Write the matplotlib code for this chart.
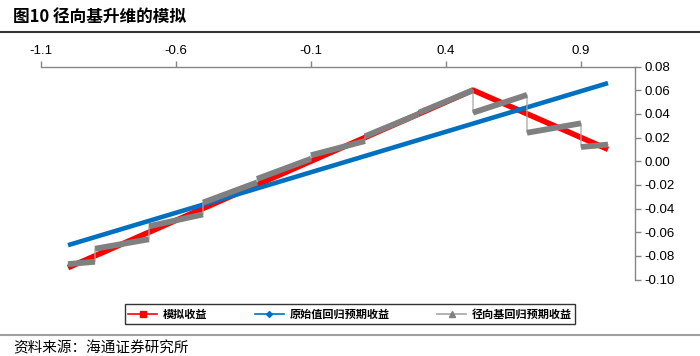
import matplotlib
matplotlib.use('Agg')
import matplotlib.pyplot as plt
from matplotlib.lines import Line2D

plt.rcParams['font.family'] = ['Liberation Sans', 'Noto Sans CJK SC', 'DejaVu Sans']
plt.rcParams['axes.unicode_minus'] = False

# 模拟收益 (tent shaped target)
sim_x = [-1.0, 0.5, 1.0]
sim_y = [-0.09, 0.06, 0.01]

# 原始值回归预期收益 (straight line fit)
ols_x = [-1.0, 1.0]
ols_y = [-0.071, 0.066]

# 径向基回归预期收益 (piecewise segments)
rbf_x0 = [-1.0, -0.9, -0.7, -0.5, -0.3, -0.1, 0.1, 0.3, 0.5, 0.7, 0.9]
rbf_x1 = [-0.9, -0.7, -0.5, -0.3, -0.1, 0.1, 0.3, 0.5, 0.7, 0.9, 1.0]
rbf_y0 = [-0.087, -0.074, -0.055, -0.035, -0.015, 0.005, 0.021, 0.041, 0.041, 0.024, 0.012]
rbf_y1 = [-0.085, -0.066, -0.045, -0.018, 0.002, 0.017, 0.040, 0.060, 0.056, 0.032, 0.014]

x_ticks = [-1.1, -0.6, -0.1, 0.4, 0.9]
x_labels = ['-1.1', '-0.6', '-0.1', '0.4', '0.9']
y_ticks = [-0.10, -0.08, -0.06, -0.04, -0.02, 0.00, 0.02, 0.04, 0.06, 0.08]

names = ['模拟收益', '原始值回归预期收益', '径向基回归预期收益']
red = '#FF0000'
blue = '#0070C0'
gray = '#808080'
axis_col = '#868686'
cjk = ['Noto Sans CJK SC', 'DejaVu Sans']

fig = plt.figure(figsize=(7, 3.56), dpi=100)
ax = fig.add_axes([41 / 700, 1 - 279.5 / 356, 594 / 700, 213 / 356])

ax.plot(sim_x, sim_y, color=red, lw=4.0, solid_capstyle='butt', zorder=2)
ax.plot(ols_x, ols_y, color=blue, lw=3.3, solid_capstyle='butt', zorder=3)

# thin connector through every point, then the thick segments on top
px, py = [], []
for a, b, c, d in zip(rbf_x0, rbf_x1, rbf_y0, rbf_y1):
    px += [a, b]
    py += [c, d]
ax.plot(px, py, color='#A6A6A6', lw=0.9, zorder=4)
for a, b, c, d in zip(rbf_x0, rbf_x1, rbf_y0, rbf_y1):
    ax.plot([a, b], [c, d], color=gray, lw=4.2, solid_capstyle='butt', zorder=5)

ax.set_xlim(-1.1, 1.1)
ax.set_ylim(-0.10, 0.08)
ax.xaxis.tick_top()
ax.yaxis.tick_right()
ax.set_xticks(x_ticks)
ax.set_xticklabels(x_labels)
ax.set_yticks(y_ticks)
ax.set_yticklabels([f'{v:.2f}' for v in y_ticks])
for s in ['left', 'bottom']:
    ax.spines[s].set_visible(False)
for s in ['top', 'right']:
    ax.spines[s].set_color(axis_col)
    ax.spines[s].set_linewidth(1.0)
ax.tick_params(direction='out', length=4, width=1, color=axis_col,
               labelsize=9.5, labelcolor='black', pad=3)

# legend
handles = [
    Line2D([], [], color=red, lw=1.2, marker='s', markersize=4),
    Line2D([], [], color=blue, lw=1.2, marker='D', markersize=3),
    Line2D([], [], color='#A6A6A6', lw=1.2, marker='^', markersize=4, markerfacecolor=gray,
           markeredgecolor=gray),
]
leg = fig.legend(handles, names, loc='lower left', ncol=3, mode='expand',
                 bbox_to_anchor=(125 / 700, 1 - 324 / 356, 450 / 700, 24 / 356),
                 frameon=True, fancybox=False, edgecolor='black', handlelength=2.6,
                 handletextpad=0.5, borderaxespad=0, borderpad=0.3,
                 prop={'family': cjk, 'size': 8, 'weight': 'bold'})
leg.get_frame().set_linewidth(1.0)

# title, rules and source
fig.text(13 / 700, 1 - 17 / 356, '图10 径向基升维的模拟', family=cjk, fontsize=12,
         fontweight='bold', va='center', ha='left')
fig.add_artist(Line2D([0, 1], [1 - 32 / 356] * 2, color='#333333', lw=1.5,
                      transform=fig.transFigure))
fig.add_artist(Line2D([0, 1], [1 - 335 / 356] * 2, color='#A0A0A0', lw=1.5,
                      transform=fig.transFigure))
fig.text(13 / 700, 1 - 348 / 356, '资料来源：海通证券研究所', family=cjk, fontsize=10.5,
         va='center', ha='left')

fig.savefig('out.png', dpi=100)
plt.close(fig)
